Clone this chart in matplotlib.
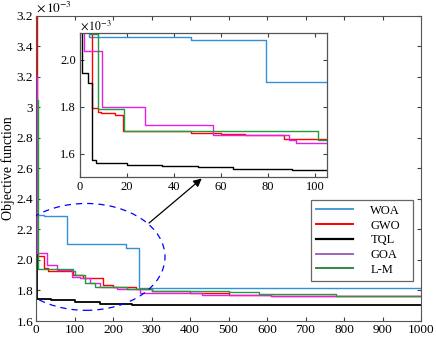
import matplotlib.pyplot as plt
import numpy as np
from matplotlib.lines import Line2D
from matplotlib.patches import Ellipse

plt.rcParams["font.family"] = ["Liberation Serif", "DejaVu Serif"]
plt.rcParams["mathtext.fontset"] = "stix"

# Convergence curves, objective values in units of 1e-3 (main plot, 0-1000 iterations)
woa_x = [0, 1, 20, 80, 234, 268, 1000]
woa_y = [3.22, 2.295, 2.285, 2.105, 2.08, 1.818, 1.818]

gwo_x = [0, 3, 20, 30, 97, 123, 173, 200, 260, 300, 400, 500, 610, 1000]
gwo_y = [3.8, 2.026, 1.945, 1.93, 1.90, 1.88, 1.835, 1.825, 1.81, 1.795, 1.782, 1.772, 1.762, 1.762]

tql_x = [0, 3, 40, 100, 166, 250, 1000]
tql_y = [2.21, 1.742, 1.735, 1.727, 1.711, 1.705, 1.705]

goa_x = [0, 2, 28, 54, 93, 115, 140, 166, 210, 270, 430, 610, 1000]
goa_y = [3.2, 2.044, 1.967, 1.934, 1.89, 1.88, 1.847, 1.825, 1.81, 1.782, 1.772, 1.762, 1.762]

lm_x = [0, 4, 97, 101, 127, 153, 236, 300, 500, 580, 780, 1000]
lm_y = [3.05, 1.941, 1.93, 1.90, 1.847, 1.825, 1.81, 1.795, 1.788, 1.777, 1.764, 1.764]

# Zoomed view, first ~105 iterations
woa_in_x = [0, 4, 47, 79, 105]
woa_in_y = [2.13, 2.096, 2.085, 1.907, 1.907]

gwo_in_x = [0, 4.9, 7.5, 9, 15, 18.3, 47, 60, 70, 86.8, 105]
gwo_in_y = [2.13, 1.793, 1.779, 1.775, 1.765, 1.695, 1.689, 1.685, 1.679, 1.663, 1.663]

tql_in_x = [0, 1, 3.4, 5.2, 7, 20, 35, 50, 65, 90, 105]
tql_in_y = [2.13, 1.943, 1.90, 1.571, 1.559, 1.553, 1.549, 1.544, 1.535, 1.53, 1.53]

goa_in_x = [0, 1.7, 9.2, 27.5, 56.7, 89, 92, 105]
goa_in_y = [2.13, 2.04, 1.799, 1.723, 1.68, 1.66, 1.644, 1.644]

lm_in_x = [0, 4.4, 7.6, 18.5, 101, 105]
lm_in_y = [2.13, 2.11, 1.79, 1.695, 1.66, 1.66]

labels = ["WOA", "GWO", "TQL", "GOA", "L-M"]
line_colors = ["#3390d6", "#ff0000", "#000000", "#e81ee8", "#1f9e3c"]
legend_colors = ["#4a9ad8", "#ff0000", "#000000", "#a064c0", "#2e8b3e"]

main_ticks = np.arange(1.6, 3.61, 0.2)
main_ticklabels = ["1.6", "1.8", "2.0", "2.2", "2.4", "2.6", "2.8", "3", "3.2", "3.4", "3.2"]

fig = plt.figure(figsize=(4.36, 3.43), dpi=100)
ax = fig.add_axes([0.0826, 0.0641, 0.883, 0.8901])

series = [(woa_x, woa_y), (gwo_x, gwo_y), (tql_x, tql_y), (goa_x, goa_y), (lm_x, lm_y)]
for (x, y), c, lab in zip(series, line_colors, labels):
    lw = 1.3 if lab == "TQL" else 1.0
    ax.plot(x, y, drawstyle="steps-post", color=c, lw=lw)

ax.set_xlim(0, 1000)
ax.set_ylim(1.6, 3.6)
ax.set_xticks(np.arange(0, 1001, 100))
ax.set_yticks(main_ticks)
ax.set_yticklabels(main_ticklabels)
ax.tick_params(direction="in", top=True, right=True, labelsize=9.5, length=3,
               color="#404040", pad=2)
for s in ax.spines.values():
    s.set_color("#555555")
    s.set_linewidth(0.8)
ax.set_ylabel("Objective function", fontsize=10, labelpad=1)
ax.text(0.0, 1.004, r"$\times\,10^{-3}$", transform=ax.transAxes, fontsize=9.5,
        ha="left", va="bottom")

# Highlight ellipse and arrow to the zoomed view
ax.add_patch(Ellipse((130, 2.02), 410, 0.70, fill=False, ls=(0, (5, 4)),
                     ec="#0000ff", lw=0.9, zorder=5))
ax.annotate("", xy=(436, 2.545), xytext=(288, 2.23),
            arrowprops=dict(arrowstyle="-|>", color="black", lw=0.9,
                            mutation_scale=12), zorder=6)

handles = [Line2D([], [], color=c, lw=1.6 if lab == "TQL" else 1.4)
           for c, lab in zip(legend_colors, labels)]
leg = ax.legend(handles, labels, loc="upper left", mode="expand",
                bbox_to_anchor=(0.714, 0.144, 0.265, 0.253),
                fontsize=9, frameon=True, fancybox=False, edgecolor="#404040",
                handlelength=3.0, handletextpad=1.35, labelspacing=0.22,
                borderpad=0.4, borderaxespad=0)
leg.get_frame().set_linewidth(0.9)

# Inset
ins = fig.add_axes([0.1835, 0.484, 0.5665, 0.4198])
inset = [(woa_in_x, woa_in_y), (gwo_in_x, gwo_in_y), (tql_in_x, tql_in_y),
         (goa_in_x, goa_in_y), (lm_in_x, lm_in_y)]
for (x, y), c in zip(inset, line_colors):
    ins.plot(x, y, drawstyle="steps-post", color=c, lw=1.0)
ins.set_xlim(0, 105)
ins.set_ylim(1.5, 2.115)
ins.set_xticks([0, 20, 40, 60, 80, 100])
ins.set_yticks([1.6, 1.8, 2.0])
ins.set_yticklabels(["1.6", "1.8", "2.0"])
ins.tick_params(direction="in", top=True, right=True, labelsize=9, length=3,
                color="#404040", pad=3)
for s in ins.spines.values():
    s.set_color("#555555")
    s.set_linewidth(0.9)
ins.text(0.0, 1.004, r"$\times\,10^{-3}$", transform=ins.transAxes, fontsize=8.5,
         ha="left", va="bottom")

fig.savefig("out.png", dpi=100)
